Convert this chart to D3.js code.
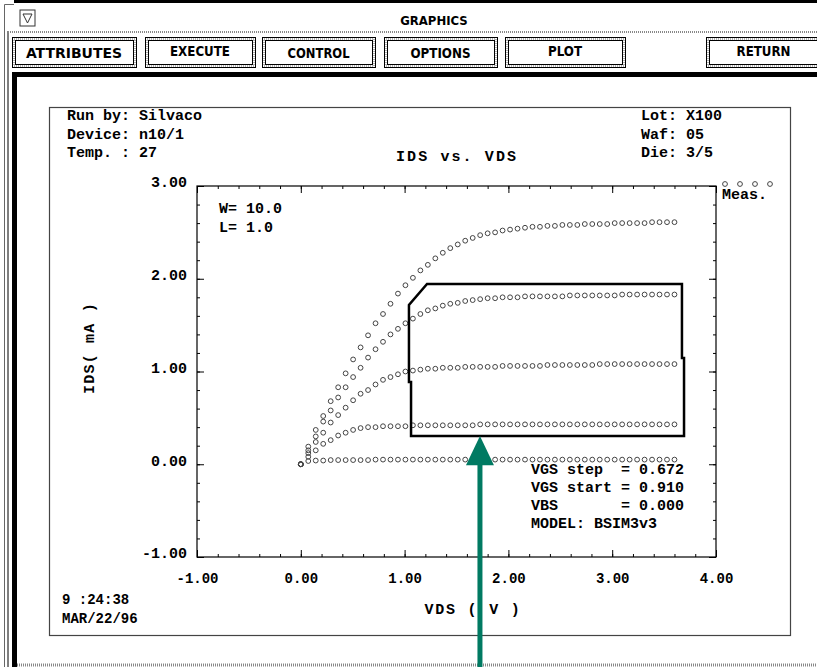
<!DOCTYPE html>
<html><head><meta charset="utf-8">
<script src="https://cdn.jsdelivr.net/npm/d3@7"></script>
<style>
body{margin:0;background:#fff;}
svg{display:block;}
.mono{font-family:"Liberation Mono","DejaVu Sans Mono",monospace;font-weight:bold;fill:#000;}
.ui{font-family:"DejaVu Sans Condensed","DejaVu Sans",sans-serif;font-stretch:condensed;font-weight:bold;fill:#000;}
</style>
</head><body>
<svg id="c" width="817" height="667"></svg>
<script>
// ---------- data ----------
const vds = [0,0.072,0.144,0.216,0.288,0.36,0.432,0.504,0.576,0.648,0.72,0.792,0.864,0.936,1.008,1.08,1.152,1.224,1.296,1.368,1.44,1.512,1.584,1.656,1.728,1.8,1.872,1.944,2.016,2.088,2.16,2.232,2.304,2.376,2.448,2.52,2.592,2.664,2.736,2.808,2.88,2.952,3.024,3.096,3.168,3.24,3.312,3.384,3.456,3.528,3.6];
const idsVgs1 = [0,0.035,0.04,0.04,0.045,0.045,0.045,0.045,0.045,0.045,0.05,0.05,0.05,0.05,0.05,0.05,0.05,0.05,0.05,0.05,0.05,0.05,0.05,0.05,0.05,0.05,0.05,0.05,0.05,0.05,0.05,0.05,0.05,0.05,0.05,0.05,0.05,0.05,0.05,0.05,0.05,0.05,0.05,0.05,0.05,0.05,0.05,0.05,0.05,0.05,0.05];
const idsVgs2 = [0,0.08,0.15,0.22,0.26,0.31,0.34,0.37,0.39,0.40,0.40,0.41,0.41,0.41,0.41,0.42,0.42,0.42,0.42,0.42,0.42,0.42,0.42,0.42,0.43,0.43,0.43,0.43,0.43,0.43,0.43,0.43,0.43,0.43,0.43,0.43,0.43,0.43,0.43,0.43,0.43,0.43,0.43,0.43,0.43,0.43,0.43,0.43,0.43,0.43,0.43];
const idsVgs3 = [0,0.12,0.24,0.34,0.45,0.53,0.61,0.69,0.76,0.80,0.86,0.91,0.94,0.97,1.00,1.01,1.02,1.03,1.03,1.04,1.04,1.04,1.05,1.05,1.05,1.05,1.05,1.06,1.06,1.06,1.06,1.06,1.06,1.07,1.07,1.07,1.07,1.07,1.07,1.07,1.08,1.08,1.08,1.08,1.08,1.08,1.08,1.08,1.08,1.08,1.08];
const idsVgs4 = [0,0.15,0.30,0.46,0.58,0.72,0.83,0.94,1.04,1.15,1.24,1.32,1.40,1.46,1.52,1.57,1.62,1.66,1.68,1.71,1.73,1.74,1.76,1.77,1.78,1.79,1.79,1.80,1.80,1.80,1.81,1.81,1.81,1.81,1.81,1.81,1.82,1.82,1.82,1.82,1.82,1.82,1.82,1.83,1.83,1.83,1.83,1.83,1.83,1.83,1.83];
const idsVgs5 = [0,0.19,0.37,0.52,0.68,0.83,0.98,1.13,1.26,1.39,1.52,1.62,1.73,1.84,1.93,2.01,2.09,2.15,2.22,2.28,2.33,2.37,2.41,2.44,2.47,2.49,2.50,2.52,2.53,2.54,2.55,2.56,2.56,2.57,2.57,2.58,2.58,2.58,2.59,2.59,2.59,2.59,2.60,2.60,2.60,2.60,2.60,2.61,2.61,2.61,2.61];
const seriesList = [idsVgs1, idsVgs2, idsVgs3, idsVgs4, idsVgs5];
const xTickValues = [-1,0,1,2,3,4];
const xTickLabels = ["-1.00","0.00","1.00","2.00","3.00","4.00"];
const yTickValues = [-1,0,1,2,3];
const yTickLabels = ["-1.00","0.00","1.00","2.00","3.00"];
// highlighted region (VDS, IDS)
const boxX = [1.216,3.672,3.672,3.692,3.692,1.062,1.062,1.042,1.042];
const boxY = [1.943,1.943,1.146,1.146,0.305,0.305,0.887,0.887,1.717];
const arrowVds = 1.726, arrowTipIds = 0.305, arrowBaseIds = -0.01;
const buttonLabels = ["ATTRIBUTES","EXECUTE","CONTROL","OPTIONS","PLOT","RETURN"];
const headerLeft = ["Run by: Silvaco","Device: n10/1","Temp. : 27"];
const headerRight = ["Lot: X100","Waf: 05","Die: 3/5"];
const paramLines = ["VGS step  = 0.672","VGS start = 0.910","VBS       = 0.000","MODEL: BSIM3v3"];
const geomLines = ["W= 10.0","L= 1.0"];
const timeLines = ["9 :24:38","MAR/22/96"];

// ---------- layout ----------
const svg = d3.select("#c");
svg.append("rect").attr("width",817).attr("height",667).attr("fill","#fff");

// window chrome
svg.append("rect").attr("x",14).attr("y",0).attr("width",803).attr("height",3).attr("fill","#000");
svg.append("path").attr("d","M4.5,667 V4.5 H14").attr("fill","none").attr("stroke","#666").attr("stroke-width",1);
svg.append("line").attr("x1",8).attr("x2",8).attr("y1",31).attr("y2",667).attr("stroke","#000").attr("stroke-width",1);
svg.append("rect").attr("x",20).attr("y",10).attr("width",15).attr("height",16).attr("fill","#fff").attr("stroke","#333").attr("stroke-width",1);
svg.append("path").attr("d","M23,14 H32 L27.5,23 Z").attr("fill","none").attr("stroke","#333").attr("stroke-width",1);
svg.append("text").attr("class","ui").attr("x",434).attr("y",25).attr("text-anchor","middle").attr("font-size",13).text("GRAPHICS");
svg.append("line").attr("x1",8).attr("x2",817).attr("y1",32).attr("y2",32).attr("stroke","#888").attr("stroke-width",2).attr("stroke-dasharray","1 1");

const btnX = [12,145,262,384,505,706];
const btnW = [124,110,113,113,120,115];
const btnTY = [58,56,58,58,56,56];
const btnTL = [96,60,62,60,34,54];
buttonLabels.forEach((b,i)=>{
  const g = svg.append("g");
  g.append("rect").attr("x",btnX[i]+0.5).attr("y",37.5).attr("width",btnW[i]).attr("height",30)
    .attr("fill","#fff").attr("stroke","#000").attr("stroke-width",1);
  g.append("rect").attr("x",btnX[i]+2).attr("y",39).attr("width",btnW[i]-3).attr("height",27)
    .attr("fill","none").attr("stroke","#999").attr("stroke-width",1.5).attr("stroke-dasharray","1 1");
  g.append("rect").attr("x",btnX[i]+3.5).attr("y",40.5).attr("width",btnW[i]-6).attr("height",24)
    .attr("fill","#fff").attr("stroke","#000").attr("stroke-width",1);
  g.append("text").attr("class","ui").attr("x",btnX[i]+btnW[i]/2).attr("y",btnTY[i]).attr("text-anchor","middle")
    .attr("font-size",14).attr("textLength",btnTL[i]).attr("lengthAdjust","spacingAndGlyphs").text(b);
});
svg.append("rect").attr("x",12).attr("y",72).attr("width",805).attr("height",5).attr("fill","#000");
svg.append("rect").attr("x",12).attr("y",72).attr("width",5).attr("height",595).attr("fill","#000");
svg.append("line").attr("x1",17).attr("x2",817).attr("y1",665).attr("y2",665).attr("stroke","#888").attr("stroke-width",3).attr("stroke-dasharray","1 1");

// paper
svg.append("rect").attr("x",49.5).attr("y",107.5).attr("width",741).attr("height",528)
  .attr("fill","none").attr("stroke","#444").attr("stroke-width",1.2);

// header texts
headerLeft.forEach((t,i)=> svg.append("text").attr("class","mono").attr("x",67).attr("y",120+i*18.5).attr("font-size",15).style("white-space","pre").text(t));
headerRight.forEach((t,i)=> svg.append("text").attr("class","mono").attr("x",641).attr("y",120+i*18.5).attr("font-size",15).style("white-space","pre").text(t));
svg.append("text").attr("class","mono").attr("x",396).attr("y",161).attr("font-size",15).attr("letter-spacing",2.1).text("IDS vs. VDS");

// scales
const x = d3.scaleLinear().domain([-1,4]).range([197,716]);
const y = d3.scaleLinear().domain([-1,3]).range([557,186]);

const minorX = d3.range(-1,4.0001,0.2).map(v=>+v.toFixed(2));
const minorY = d3.range(-1,3.0001,0.2).map(v=>+v.toFixed(2));

function styleAxis(g){ g.select(".domain").remove(); g.selectAll("line").attr("stroke","#000"); }
// minor ticks
svg.append("g").attr("transform",`translate(0,${y(-1)})`).call(d3.axisBottom(x).tickValues(minorX).tickSize(-3).tickFormat("")).call(styleAxis);
svg.append("g").attr("transform",`translate(0,${y(3)})`).call(d3.axisTop(x).tickValues(minorX).tickSize(-3).tickFormat("")).call(styleAxis);
svg.append("g").attr("transform",`translate(${x(-1)},0)`).call(d3.axisLeft(y).tickValues(minorY).tickSize(-3).tickFormat("")).call(styleAxis);
svg.append("g").attr("transform",`translate(${x(4)},0)`).call(d3.axisRight(y).tickValues(minorY).tickSize(-3).tickFormat("")).call(styleAxis);
// major ticks
svg.append("g").attr("transform",`translate(0,${y(-1)})`).call(d3.axisBottom(x).tickValues(xTickValues).tickSize(-7).tickPadding(16).tickFormat((d,i)=>xTickLabels[i]))
  .call(styleAxis).call(g=>g.selectAll("text").attr("class","mono").attr("font-size",14).attr("font-family",null).attr("dy","0.71em"));
svg.append("g").attr("transform",`translate(0,${y(3)})`).call(d3.axisTop(x).tickValues(xTickValues).tickSize(-7).tickFormat("")).call(styleAxis);
svg.append("g").attr("transform",`translate(${x(-1)},0)`).call(d3.axisLeft(y).tickValues(yTickValues).tickSize(-7).tickPadding(10).tickFormat((d,i)=>yTickLabels[i]))
  .call(styleAxis).call(g=>g.selectAll("text").attr("class","mono").attr("font-size",15).attr("font-family",null).attr("dy","0.05em"));
svg.append("g").attr("transform",`translate(${x(4)},0)`).call(d3.axisRight(y).tickValues(yTickValues).tickSize(-7).tickFormat("")).call(styleAxis);

// frame
svg.append("rect").attr("x",x(-1)).attr("y",y(3)).attr("width",x(4)-x(-1)).attr("height",y(-1)-y(3))
  .attr("fill","none").attr("stroke","#000").attr("stroke-width",1.2);

// axis titles
svg.append("text").attr("class","mono").attr("font-size",15).attr("letter-spacing",1.2)
  .attr("transform","translate(94,348) rotate(-90)").attr("text-anchor","middle").style("white-space","pre").text("IDS( mA )");
svg.append("text").attr("class","mono").attr("font-size",15).attr("letter-spacing",1.8)
  .attr("x",473).attr("y",614).attr("text-anchor","middle").style("white-space","pre").text("VDS ( V )");

// inner labels
geomLines.forEach((t,i)=> svg.append("text").attr("class","mono").attr("x",219).attr("y",213+i*18.5).attr("font-size",15).text(t));
paramLines.forEach((t,i)=> svg.append("text").attr("class","mono").attr("x",531).attr("y",474+i*18).attr("font-size",15).style("white-space","pre").text(t));
timeLines.forEach((t,i)=> svg.append("text").attr("class","mono").attr("x",62).attr("y",604+i*19).attr("font-size",14).style("white-space","pre").text(t));

// legend
const legG = svg.append("g");
[0,1,2,3].forEach(k=> legG.append("circle").attr("cx",725+k*15).attr("cy",184).attr("r",2.4)
   .attr("fill","none").attr("stroke","#444").attr("stroke-width",1));
legG.append("text").attr("class","mono").attr("x",722).attr("y",199).attr("font-size",15).text("Meas.");

// data points
seriesList.forEach(s=>{
  svg.append("g").selectAll("circle").data(vds.map((v,i)=>[v,s[i]])).join("circle")
    .attr("cx",d=>x(d[0])).attr("cy",d=>y(d[1])).attr("r",2.4)
    .attr("fill","none").attr("stroke","#444").attr("stroke-width",1);
});

// highlight box
svg.append("path").attr("d", d3.line()(boxX.map((v,i)=>[x(v),y(boxY[i])])) + "Z")
  .attr("fill","none").attr("stroke","#000").attr("stroke-width",2.5).attr("stroke-linejoin","miter");

// arrow
const ax = x(arrowVds), tipY = y(arrowTipIds), baseY = y(arrowBaseIds);
svg.append("rect").attr("x",ax-2.5).attr("y",baseY-1).attr("width",5).attr("height",667-baseY+1).attr("fill","#007a62");
svg.append("path").attr("d",`M${ax},${tipY} L${ax+14},${baseY} L${ax-14},${baseY} Z`).attr("fill","#007a62");
</script>
</body></html>
